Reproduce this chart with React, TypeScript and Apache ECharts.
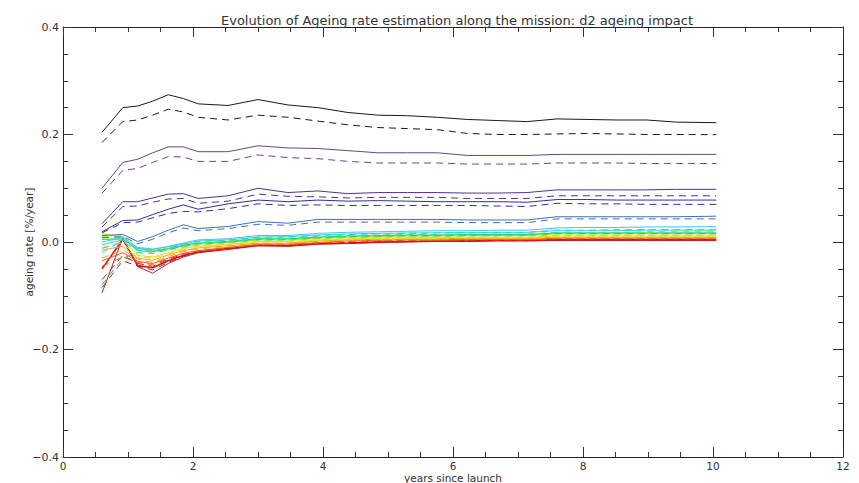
import React, { useEffect, useRef } from "react";
import * as echarts from "echarts";

const TITLE = "Evolution of Ageing rate estimation along the mission: d2 ageing impact";
const X_NAME = "years since launch";
const Y_NAME = "ageing rate [%/year]";

const TIMES = [0.6, 0.92, 1.15, 1.38, 1.62, 1.85, 2.08, 2.54, 3.0, 3.46, 3.92, 4.38, 4.84, 5.3, 5.76, 6.22, 6.68, 7.14, 7.6, 8.06, 8.52, 8.98, 9.44, 10.05];

const BLACK_S = [0.204, 0.25, 0.253, 0.262, 0.274, 0.267, 0.257, 0.254, 0.265, 0.255, 0.25, 0.241, 0.236, 0.235, 0.232, 0.228, 0.226, 0.224, 0.229, 0.228, 0.227, 0.227, 0.223, 0.222];
const BLACK_D = [0.185, 0.224, 0.227, 0.236, 0.247, 0.242, 0.232, 0.227, 0.236, 0.232, 0.225, 0.218, 0.213, 0.211, 0.209, 0.202, 0.2, 0.2, 0.201, 0.202, 0.201, 0.2, 0.2, 0.1997];
const PURPLE_S = [0.1, 0.148, 0.154, 0.166, 0.177, 0.177, 0.168, 0.168, 0.179, 0.175, 0.174, 0.17, 0.166, 0.166, 0.166, 0.161, 0.161, 0.161, 0.163, 0.163, 0.163, 0.163, 0.163, 0.163];
const PURPLE_D = [0.091, 0.133, 0.137, 0.148, 0.159, 0.158, 0.15, 0.15, 0.162, 0.157, 0.155, 0.15, 0.147, 0.147, 0.147, 0.145, 0.145, 0.145, 0.147, 0.147, 0.147, 0.146, 0.146, 0.146];
const INDIGO_S = [0.034, 0.075, 0.075, 0.082, 0.089, 0.09, 0.081, 0.086, 0.1, 0.092, 0.095, 0.09, 0.092, 0.092, 0.092, 0.091, 0.091, 0.092, 0.097, 0.097, 0.097, 0.097, 0.098, 0.098];
const INDIGO_D = [0.028, 0.066, 0.067, 0.074, 0.08, 0.081, 0.072, 0.076, 0.089, 0.085, 0.084, 0.082, 0.083, 0.083, 0.083, 0.081, 0.081, 0.081, 0.086, 0.086, 0.086, 0.086, 0.086, 0.086];
const NAVY_S = [0.019, 0.04, 0.041, 0.051, 0.061, 0.069, 0.061, 0.071, 0.078, 0.075, 0.078, 0.076, 0.077, 0.076, 0.075, 0.075, 0.075, 0.074, 0.079, 0.079, 0.078, 0.078, 0.078, 0.078];
const NAVY_D = [0.017, 0.036, 0.037, 0.045, 0.053, 0.057, 0.056, 0.062, 0.071, 0.068, 0.069, 0.068, 0.068, 0.068, 0.068, 0.068, 0.067, 0.066, 0.072, 0.071, 0.071, 0.07, 0.07, 0.07];
const BLUE_S = [0.012, 0.014, 0.001, 0.01, 0.022, 0.032, 0.025, 0.029, 0.038, 0.035, 0.042, 0.042, 0.042, 0.042, 0.042, 0.041, 0.041, 0.041, 0.047, 0.047, 0.047, 0.047, 0.047, 0.048];
const BLUE_D = [0.008, 0.01, -0.003, 0.005, 0.017, 0.026, 0.021, 0.025, 0.033, 0.031, 0.037, 0.037, 0.037, 0.037, 0.037, 0.036, 0.036, 0.036, 0.043, 0.043, 0.043, 0.043, 0.043, 0.043];
const CYAN_S = [-0.005, 0.004, -0.012, -0.014, -0.008, -0.002, 0.004, 0.006, 0.012, 0.012, 0.016, 0.018, 0.019, 0.02, 0.021, 0.021, 0.022, 0.022, 0.026, 0.027, 0.027, 0.028, 0.028, 0.0285];
const CYAN_D = [-0.012, 0.0, -0.016, -0.018, -0.011, -0.005, 0.001, 0.003, 0.009, 0.009, 0.012, 0.014, 0.015, 0.016, 0.017, 0.017, 0.018, 0.018, 0.022, 0.022, 0.023, 0.023, 0.023, 0.0236];
const AQUA_S = [0.0, 0.008, -0.01, -0.013, -0.009, -0.004, 0.002, 0.004, 0.009, 0.01, 0.013, 0.015, 0.016, 0.017, 0.017, 0.018, 0.018, 0.018, 0.021, 0.021, 0.021, 0.022, 0.022, 0.022];
const AQUA_D = [-0.02, 0.004, -0.013, -0.016, -0.012, -0.007, -0.001, 0.001, 0.006, 0.007, 0.01, 0.012, 0.013, 0.014, 0.014, 0.015, 0.015, 0.015, 0.018, 0.018, 0.018, 0.019, 0.019, 0.019];
const GREEN_S = [0.005, 0.006, -0.016, -0.018, -0.012, -0.006, -0.002, 0.001, 0.006, 0.006, 0.009, 0.011, 0.012, 0.013, 0.013, 0.014, 0.014, 0.014, 0.017, 0.017, 0.017, 0.017, 0.017, 0.017];
const GREEN_D = [-0.08, -0.03, -0.02, -0.021, -0.014, -0.008, -0.003, 0.0, 0.005, 0.005, 0.008, 0.01, 0.011, 0.012, 0.012, 0.013, 0.013, 0.013, 0.016, 0.016, 0.016, 0.016, 0.016, 0.016];
const LIME_S = [0.015, 0.01, -0.012, -0.016, -0.013, -0.008, -0.004, -0.001, 0.004, 0.004, 0.007, 0.009, 0.01, 0.011, 0.011, 0.012, 0.012, 0.012, 0.015, 0.015, 0.015, 0.015, 0.015, 0.015];
const LIME_D = [0.01, 0.008, -0.015, -0.019, -0.015, -0.01, -0.006, -0.002, 0.003, 0.003, 0.006, 0.008, 0.009, 0.01, 0.01, 0.011, 0.011, 0.011, 0.013, 0.013, 0.013, 0.013, 0.013, 0.013];
const YELLOW_S = [0.005, 0.004, -0.025, -0.028, -0.02, -0.012, -0.008, -0.004, 0.001, 0.001, 0.004, 0.006, 0.007, 0.008, 0.008, 0.009, 0.009, 0.009, 0.011, 0.011, 0.011, 0.011, 0.011, 0.011];
const YELLOW_D = [-0.01, -0.002, -0.028, -0.03, -0.022, -0.014, -0.01, -0.005, 0.0, 0.0, 0.003, 0.005, 0.006, 0.007, 0.007, 0.008, 0.008, 0.008, 0.01, 0.01, 0.01, 0.01, 0.01, 0.01];
const ORANGE_S = [-0.015, -0.008, -0.03, -0.034, -0.024, -0.016, -0.011, -0.007, -0.002, -0.002, 0.002, 0.004, 0.005, 0.006, 0.006, 0.007, 0.007, 0.007, 0.009, 0.009, 0.009, 0.009, 0.009, 0.009];
const ORANGE_D = [-0.03, -0.015, -0.032, -0.038, -0.027, -0.018, -0.013, -0.008, -0.003, -0.003, 0.001, 0.003, 0.004, 0.005, 0.005, 0.006, 0.006, 0.006, 0.008, 0.008, 0.008, 0.008, 0.008, 0.008];
const VERMIL_S = [-0.035, -0.02, -0.036, -0.04, -0.03, -0.021, -0.016, -0.01, -0.004, -0.004, -0.001, 0.002, 0.003, 0.004, 0.004, 0.005, 0.005, 0.005, 0.007, 0.007, 0.007, 0.007, 0.007, 0.007];
const VERMIL_D = [-0.045, -0.028, -0.038, -0.042, -0.031, -0.022, -0.017, -0.011, -0.005, -0.005, -0.002, 0.001, 0.002, 0.003, 0.003, 0.004, 0.004, 0.004, 0.006, 0.006, 0.006, 0.006, 0.006, 0.006];
const RED_S = [-0.05, 0.005, -0.044, -0.048, -0.035, -0.025, -0.018, -0.012, -0.006, -0.007, -0.003, -0.002, 0.0, 0.001, 0.002, 0.002, 0.003, 0.003, 0.004, 0.004, 0.004, 0.004, 0.004, 0.004];
const RED_D = [-0.07, -0.025, -0.04, -0.045, -0.032, -0.023, -0.017, -0.011, -0.005, -0.006, -0.002, -0.001, 0.001, 0.002, 0.002, 0.003, 0.003, 0.003, 0.005, 0.005, 0.005, 0.005, 0.005, 0.005];
const BROWN_S = [-0.095, 0.008, -0.046, -0.058, -0.04, -0.028, -0.02, -0.014, -0.007, -0.008, -0.004, -0.003, -0.001, 0.0, 0.001, 0.001, 0.002, 0.002, 0.003, 0.003, 0.003, 0.003, 0.003, 0.003];
const BROWN_D = [-0.085, -0.035, -0.045, -0.052, -0.038, -0.026, -0.019, -0.013, -0.006, -0.007, -0.003, -0.002, 0.0, 0.001, 0.002, 0.002, 0.003, 0.003, 0.004, 0.004, 0.004, 0.004, 0.004, 0.004];

const CHANNELS: [string, number[], number[], number][] = [
  ["#9a2c3c", BROWN_S, BROWN_D, 1],
  ["#e01010", RED_S, RED_D, 1.6],
  ["#f05a24", VERMIL_S, VERMIL_D, 1],
  ["#f5a21e", ORANGE_S, ORANGE_D, 1],
  ["#e8dc22", YELLOW_S, YELLOW_D, 1],
  ["#9ee02a", LIME_S, LIME_D, 1],
  ["#22d44a", GREEN_S, GREEN_D, 1],
  ["#2cdcc8", AQUA_S, AQUA_D, 1],
  ["#3cc4f0", CYAN_S, CYAN_D, 1],
  ["#3a72b8", BLUE_S, BLUE_D, 1],
  ["#30309a", NAVY_S, NAVY_D, 1],
  ["#54308e", INDIGO_S, INDIGO_D, 1],
  ["#6a4488", PURPLE_S, PURPLE_D, 1],
  ["#1a1a1a", BLACK_S, BLACK_D, 1],
];

const FONT = "DejaVu Sans";

export default function App() {
  const ref = useRef<HTMLDivElement>(null);
  useEffect(() => {
    if (!ref.current) return;
    const chart = echarts.init(ref.current, undefined, { renderer: "svg" });
    const series: any[] = [];
    CHANNELS.forEach(([color, s, d, w]) => {
      series.push({
        type: "line",
        showSymbol: false,
        data: TIMES.map((t, i) => [t, s[i]]),
        lineStyle: { color, width: w, type: "solid" },
        silent: true,
      });
      series.push({
        type: "line",
        showSymbol: false,
        data: TIMES.map((t, i) => [t, d[i]]),
        lineStyle: { color, width: 1, type: [7, 5] },
        silent: true,
      });
    });
    const tickStyle = { color: "#333", width: 1 };
    const xBase = {
      type: "value",
      min: 0,
      max: 12,
      interval: 2,
      splitLine: { show: false },
      axisLine: { show: true, onZero: false, lineStyle: { color: "#222", width: 1 } },
      axisTick: { show: true, inside: true, length: 10, lineStyle: tickStyle },
      minorTick: { show: true, splitNumber: 4, length: 5, lineStyle: tickStyle },
    };
    const yBase = {
      type: "value",
      min: -0.4,
      max: 0.4,
      interval: 0.2,
      splitLine: { show: false },
      axisLine: { show: true, onZero: false, lineStyle: { color: "#222", width: 1 } },
      axisTick: { show: true, inside: true, length: 10, lineStyle: tickStyle },
      minorTick: { show: true, splitNumber: 4, length: 5, lineStyle: tickStyle },
    };
    chart.setOption({
      animation: false,
      backgroundColor: "#ffffff",
      title: {
        text: TITLE,
        left: 452,
        textAlign: "center",
        top: 9,
        textStyle: { fontFamily: FONT, fontSize: 13, fontWeight: "normal", color: "#333" },
      },
      grid: { left: 63, right: 16, top: 27, bottom: 26, outerBoundsMode: "none", containLabel: false },
      xAxis: [
        {
          ...xBase,
          position: "bottom",
          name: X_NAME,
          nameLocation: "middle",
          nameGap: 15,
          nameMoveOverlap: false,
          nameTextStyle: { fontFamily: FONT, fontSize: 10.5, color: "#333", lineHeight: 11 },
          axisLabel: { fontFamily: FONT, fontSize: 10.5, color: "#333", margin: 3, lineHeight: 11 },
        },
        { ...xBase, position: "top", axisLabel: { show: false } },
      ],
      yAxis: [
        {
          ...yBase,
          position: "left",
          name: Y_NAME,
          nameLocation: "middle",
          nameGap: 29,
          nameMoveOverlap: false,
          nameTextStyle: { fontFamily: FONT, fontSize: 10.5, color: "#333" },
          axisLabel: {
            fontFamily: FONT,
            fontSize: 11,
            color: "#333",
            margin: 4,
            formatter: (v: number) => (v < 0 ? "\u2212" + Math.abs(v).toFixed(1) : v.toFixed(1)),
          },
        },
        { ...yBase, position: "right", axisLabel: { show: false } },
      ],
      series,
    });
    return () => chart.dispose();
  }, []);
  return <div ref={ref} style={{ width: 859, height: 483, position: "absolute", left: 0, top: 0 }} />;
}
